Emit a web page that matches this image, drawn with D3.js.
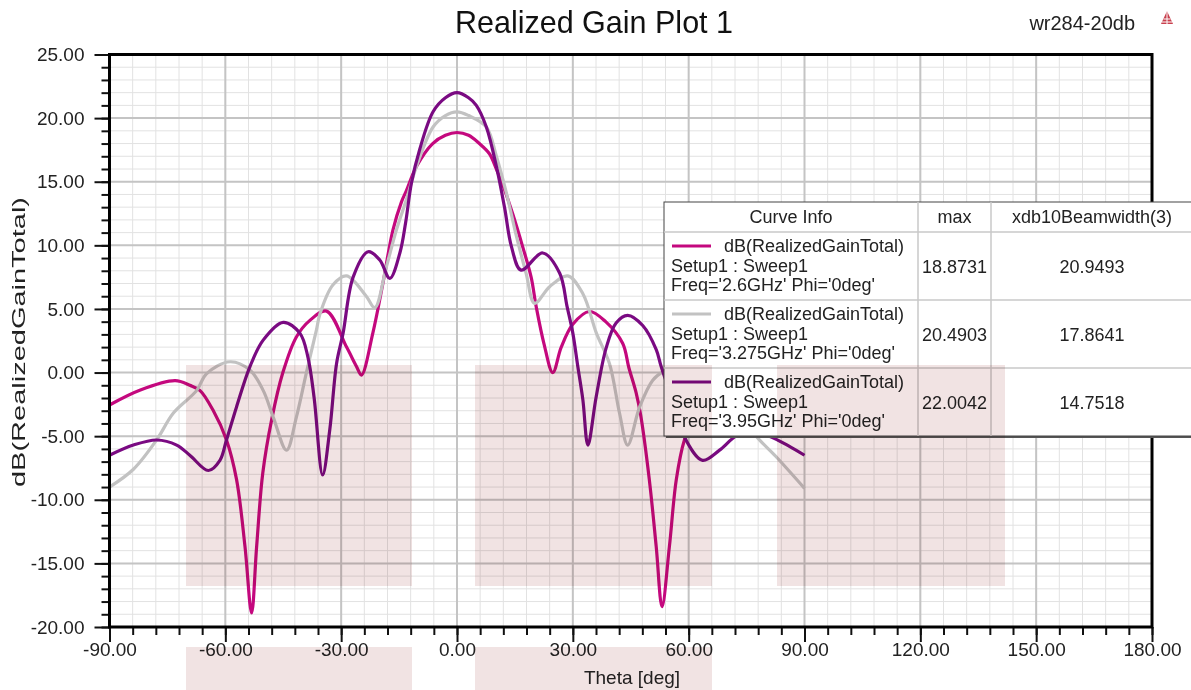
<!DOCTYPE html>
<html><head><meta charset="utf-8">
<script src="https://cdn.jsdelivr.net/npm/d3@7"></script>
<style>body{margin:0;background:#fff}svg{display:block;font-family:Arial,"Liberation Sans",sans-serif}</style>
</head><body><svg id="c" width="1191" height="690"></svg>
<script>
// ---- data ----
const xTicks = [-90, -60, -30, 0, 30, 60, 90, 120, 150, 180];
const yTicks = [-20, -15, -10, -5, 0, 5, 10, 15, 20, 25];
const seriesNames = ["2.6GHz", "3.275GHz", "3.95GHz"];
const maxValues = ["18.8731", "20.4903", "22.0042"];
const beamwidths = ["20.9493", "17.8641", "14.7518"];
const theta26 = [-90,-82,-73,-69.2,-66.6,-63.2,-59.7,-57.1,-54.9,-53.2,-51.9,-50.3,-48.0,-45.1,-41.6,-38.1,-33.8,-28.6,-26.0,-24.75,-21.8,-19.2,-16.6,-14.4,-13.1,-10.5,-6.3,-3,0,3,5.8,8.4,10.2,11.8,14.4,17.0,19.2,20.5,22.5,24.8,27,30,34.3,38.5,42.9,44.5,46.4,47.6,49.8,51.6,53.1,55.0,56.8,58.9,62.5,66.6,69.5,73,82,90];
const gain26  = [-2.55,-1.37,-0.64,-1.0,-1.4,-2.95,-5.3,-8.4,-13.7,-18.9,-13.7,-7.9,-3.7,0,2.8,4.1,4.83,2.0,0.46,-0.2,3.1,7.0,11.2,13.4,14.3,16.2,18.0,18.65,18.87,18.65,18.0,17.2,16.0,14.8,12.5,9.9,7.5,5.2,2.3,0,2.0,3.8,4.8,4.0,2.3,0.4,-1.6,-3.4,-8.4,-13.7,-18.4,-13.7,-8.4,-5.3,-2.8,-1.4,-0.9,-0.6,-1.35,-2.5];
const theta3275 = [-90,-83.8,-77.8,-73.5,-67.4,-64.9,-58.8,-53.65,-50.2,-47.6,-44.15,-41.6,-39.0,-36.4,-35.5,-32.1,-28.6,-23.5,-21.3,-18.3,-15.7,-13.1,-10.5,-6.2,-3,0,3,7.6,10.2,12.8,15.4,17.9,20.1,24.0,28.7,32.6,36.1,39.5,42.1,44.2,47.3,50.7,53.3,58.8,64.9,67.4,73.5,77.5,82.6,90];
const gain3275  = [-9.0,-7.6,-5.3,-3.2,-1.4,-0.1,0.85,0.2,-1.4,-3.5,-6.1,-3.5,0,3.35,4.6,6.9,7.6,6.0,5.1,8.3,11.2,13.6,16.2,19.3,20.2,20.49,20.2,19.3,17.0,14.1,10.7,7.8,5.44,6.75,7.6,6.2,3.1,0.7,-3.2,-5.7,-2.7,-0.6,0.06,0.85,-0.1,-1.4,-3.2,-5.0,-6.6,-9.1];
const theta395 = [-90,-83.8,-77.8,-72.6,-69.2,-64.4,-61.4,-59.7,-57.1,-53.65,-50.2,-45.0,-40.7,-38.6,-37.0,-34.8,-32.95,-31.2,-29.5,-26.9,-23.0,-20.0,-17.4,-14.8,-13.3,-11.8,-9.7,-6.2,-3,0,3,5.0,7.6,10.2,12.3,14.1,16.6,22.2,26.6,28.5,30.0,31.3,32.6,33.9,36.05,38.6,41.2,44.2,48.1,51.6,52.9,56.2,59.3,63.6,68.0,72.3,77,80.9,86.1,90];
const gain395  = [-6.5,-5.7,-5.3,-5.7,-6.5,-7.7,-6.9,-5.3,-2.7,0.45,2.55,3.95,3.1,1.2,-2.0,-8.05,-4.5,0.7,3.1,7.5,9.5,8.85,7.4,9.4,11.8,14.9,17.5,20.5,21.6,22.0,21.6,21.0,19.3,16.2,13.0,9.9,8.05,9.4,7.8,5.2,3.1,0.45,-2.15,-5.7,-1.9,1.9,3.9,4.5,3.7,1.8,0.45,-2.5,-5.3,-6.9,-6.1,-5.0,-4.7,-5.0,-5.8,-6.5];
const colors = ["#c4087e", "#c2c2c2", "#7a0a82"];
const series = [
  {thetas: theta26, gains: gain26},
  {thetas: theta3275, gains: gain3275},
  {thetas: theta395, gains: gain395}
];

// ---- layout ----
const svg = d3.select("#c");
const x = d3.scaleLinear().domain([-90, 180]).range([109.5, 1152]);
const y = d3.scaleLinear().domain([-20, 25]).range([627, 54.5]);
const minorX = d3.range(-90, 181, 6);
const minorY = d3.range(-20, 25.1, 1);

// grid
const g = svg.append("g");
g.selectAll(".mx").data(minorX).join("line")
  .attr("x1", d => x(d)).attr("x2", d => x(d)).attr("y1", y(25)).attr("y2", y(-20))
  .attr("stroke", "#e2e2e2").attr("stroke-width", 1);
g.selectAll(".my").data(minorY).join("line")
  .attr("y1", d => y(d)).attr("y2", d => y(d)).attr("x1", x(-90)).attr("x2", x(180))
  .attr("stroke", "#e2e2e2").attr("stroke-width", 1);
g.selectAll(".Mx").data(xTicks).join("line")
  .attr("x1", d => x(d)).attr("x2", d => x(d)).attr("y1", y(25)).attr("y2", y(-20))
  .attr("stroke", "#c4c4c4").attr("stroke-width", 2);
g.selectAll(".My").data(yTicks).join("line")
  .attr("y1", d => y(d)).attr("y2", d => y(d)).attr("x1", x(-90)).attr("x2", x(180))
  .attr("stroke", "#c4c4c4").attr("stroke-width", 2);

// curves
const line = d3.line().curve(d3.curveCatmullRom.alpha(0.5));
const curveG = svg.append("g");
series.forEach((s, i) => {
  const pts = s.thetas.map((t, k) => [x(t), y(s.gains[k])]);
  curveG.append("path").attr("d", line(pts)).attr("fill", "none")
    .attr("stroke", colors[i]).attr("stroke-width", 3.2).attr("stroke-linejoin", "round");
});

// axes
const fmt = d => d.toFixed(2);
const ax = svg.append("g").attr("transform", `translate(0,${y(-20)})`);
ax.call(d3.axisBottom(x).tickValues(minorX).tickSize(8).tickFormat(""));
ax.select(".domain").remove();
const ax2 = svg.append("g").attr("transform", `translate(0,${y(-20)})`);
ax2.call(d3.axisBottom(x).tickValues(xTicks).tickSize(15).tickPadding(1).tickFormat(fmt));
ax2.select(".domain").remove();
const ay = svg.append("g").attr("transform", `translate(${x(-90)},0)`);
ay.call(d3.axisLeft(y).tickValues(minorY).tickSize(8).tickFormat(""));
ay.select(".domain").remove();
const ay2 = svg.append("g").attr("transform", `translate(${x(-90)},0)`);
ay2.call(d3.axisLeft(y).tickValues(yTicks).tickSize(15).tickPadding(10).tickFormat(fmt));
ay2.select(".domain").remove();
svg.selectAll(".tick line").attr("stroke", "#111").attr("stroke-width", 2);
svg.selectAll(".tick text").attr("font-size", 19).attr("fill", "#222")
  .attr("font-family", "Arial, 'Liberation Sans', sans-serif");

// frame
svg.append("rect").attr("x", x(-90)).attr("y", y(25))
  .attr("width", x(180) - x(-90)).attr("height", y(-20) - y(25))
  .attr("fill", "none").attr("stroke", "#000").attr("stroke-width", 3);

// titles
svg.append("text").attr("x", 594).attr("y", 33).attr("text-anchor", "middle")
  .attr("font-size", 30.5).attr("fill", "#111").text("Realized Gain Plot 1");
svg.append("text").attr("x", 1135).attr("y", 30).attr("text-anchor", "end")
  .attr("font-size", 20).attr("fill", "#222").text("wr284-20db");
const icon = svg.append("g").attr("transform", "translate(1167,18)");
icon.append("path").attr("d", "M0,-7 L6,6 L-6,6 Z").attr("fill", "#c8404e");
icon.append("path").attr("d", "M-3.5,1 L3.5,1 M-5,4 L5,4 M0,-7 L0,6").attr("stroke", "#fff").attr("stroke-width", 1);
svg.append("text").attr("x", 632).attr("y", 684).attr("text-anchor", "middle")
  .attr("font-size", 19).attr("fill", "#222").text("Theta [deg]");
svg.append("text").attr("transform", "translate(25,342) rotate(-90)").attr("text-anchor", "middle")
  .attr("font-size", 19).attr("fill", "#222")
  .attr("textLength", 290).attr("lengthAdjust", "spacingAndGlyphs").text("dB(RealizedGainTotal)");

// legend
const L = {x0: 664, x1: 918, x2: 991, x3: 1195, y0: 202, hy: 232, rh: 68};
const lg = svg.append("g");
lg.append("rect").attr("x", L.x0 + 2).attr("y", L.y0 + 2).attr("width", L.x3 - L.x0).attr("height", L.hy - L.y0 + 3 * L.rh)
  .attr("fill", "#555");
lg.append("rect").attr("x", L.x0).attr("y", L.y0).attr("width", L.x3 - L.x0).attr("height", L.hy - L.y0 + 3 * L.rh)
  .attr("fill", "#fff").attr("stroke", "#444").attr("stroke-width", 1);
[L.x1, L.x2].forEach(cx => lg.append("line").attr("x1", cx).attr("x2", cx).attr("y1", L.y0)
  .attr("y2", L.hy + 3 * L.rh).attr("stroke", "#c8c8c8").attr("stroke-width", 1.5));
[0, 1, 2].forEach(r => lg.append("line").attr("x1", L.x0).attr("x2", L.x3).attr("y1", L.hy + r * L.rh)
  .attr("y2", L.hy + r * L.rh).attr("stroke", "#c8c8c8").attr("stroke-width", 1.5));
const lt = (tx, ty, s, anchor) => lg.append("text").attr("x", tx).attr("y", ty)
  .attr("text-anchor", anchor || "start").attr("font-size", 18).attr("fill", "#222").text(s);
lt((L.x0 + L.x1) / 2, L.y0 + 21, "Curve Info", "middle");
lt((L.x1 + L.x2) / 2, L.y0 + 21, "max", "middle");
lt(1092, L.y0 + 21, "xdb10Beamwidth(3)", "middle");
seriesNames.forEach((nm, i) => {
  const top = L.hy + i * L.rh;
  lg.append("line").attr("x1", 672).attr("x2", 711).attr("y1", top + 14).attr("y2", top + 14)
    .attr("stroke", colors[i]).attr("stroke-width", 3);
  lt(724, top + 20, "dB(RealizedGainTotal)");
  lt(671, top + 40, "Setup1 : Sweep1");
  lt(671, top + 59, `Freq='${nm}' Phi='0deg'`);
  lt((L.x1 + L.x2) / 2, top + 41, maxValues[i], "middle");
  lt(1092, top + 41, beamwidths[i], "middle");
});

// translucent tinted boxes present in the reference image
const boxes = [[186, 365, 226, 221], [475, 365, 237, 221], [777, 365, 228, 221], [186, 647, 226, 43], [475, 647, 237, 43]];
svg.append("g").selectAll("rect").data(boxes).join("rect")
  .attr("x", d => d[0]).attr("y", d => d[1]).attr("width", d => d[2]).attr("height", d => d[3])
  .attr("fill", "#f1e3e3").style("mix-blend-mode", "multiply");
</script></body></html>
